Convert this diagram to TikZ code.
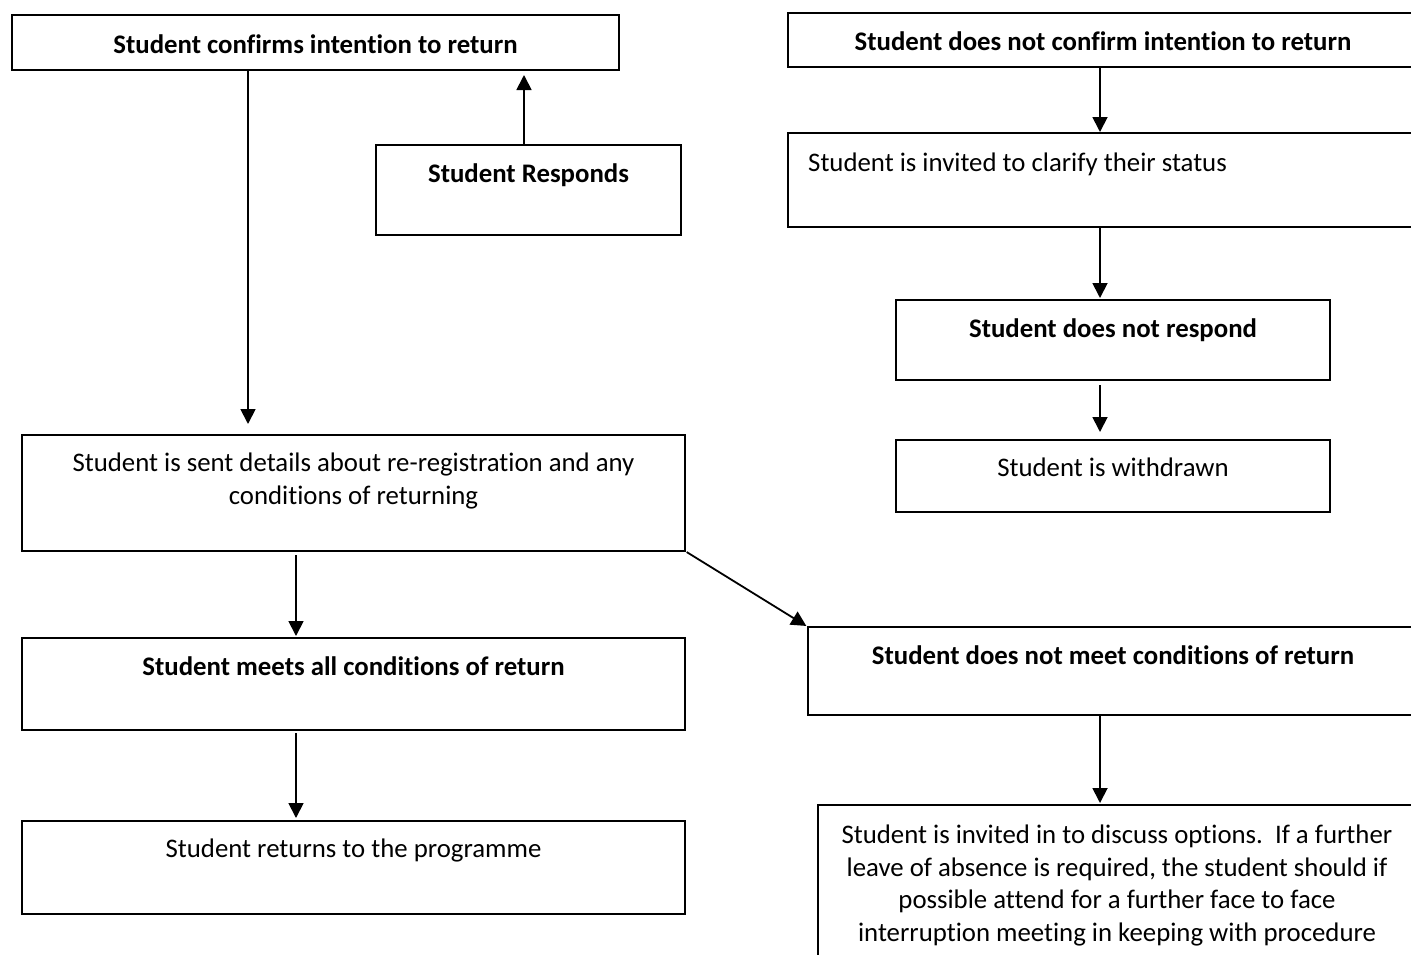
\documentclass[tikz,border=0pt]{standalone}
\usepackage{fontspec}
\setmainfont{Carlito}[Ligatures=NoCommon]
\usetikzlibrary{arrows.meta}
\usetikzlibrary{positioning}
\tikzset{box/.style = {draw, rectangle, line width=1.8pt, anchor=north west,
                       inner sep=0, outer sep=0}}
\tikzset{txt/.style = {inner sep=0, align=center, font=\fontsize{26.8}{32.5}\selectfont}}
\tikzset{btxt/.style = {txt, font=\fontsize{26.8}{32.5}\selectfont\bfseries}}
\tikzset{arr/.style = {line width=1.8pt, -{Triangle[length=15pt, width=15pt]}}}

\begin{document}
\begin{tikzpicture}[x=1pt, y=-1pt]
      \useasboundingbox (0,0) rectangle (1411,954);
      \clip (0,0) rectangle (1411,954);
      \node [box, minimum width=607pt, minimum height=55pt] (confirm) at (12,15) {};
      \node [box, minimum width=305pt, minimum height=90pt] (responds) at (376,145) {};
      \node [box, minimum width=630pt, minimum height=54pt] (notconfirm) at (788,13) {};
      \node [box, minimum width=630pt, minimum height=94pt] (clarify) at (788,133) {};
      \node [box, minimum width=434pt, minimum height=80pt] (norespond) at (896,300) {};
      \node [box, minimum width=434pt, minimum height=72pt] (withdrawn) at (896,440) {};
      \node [box, minimum width=663pt, minimum height=116pt] (sent) at (22,435) {};
      \node [box, minimum width=663pt, minimum height=92pt] (meets) at (22,638) {};
      \node [box, minimum width=663pt, minimum height=93pt] (returns) at (22,821) {};
      \node [box, minimum width=610pt, minimum height=88pt] (notmeet) at (808,627) {};
      \node [box, minimum width=598pt, minimum height=200pt] (invited) at (818,805) {};
      \node [btxt, below=19pt of confirm.north] (tconfirm) {Student confirms intention to return};
      \node [btxt, below=18pt of responds.north] (tresponds) {Student Responds};
      \node [btxt, below=18pt of notconfirm.north] (tnotconfirm) {Student does not confirm intention to return};
      \node [txt, anchor=north west, below right=20pt and 20pt of clarify.north west] (tclarify)
            {Student is invited to clarify their status};
      \node [btxt, below=18pt of norespond.north] (tnorespond) {Student does not respond};
      \node [txt, below=18pt of withdrawn.north] (twithdrawn) {Student is withdrawn};
      \node [txt, below=18pt of sent.north] (tsent)
            {Student is sent details about re-registration and any\\conditions of returning};
      \node [btxt, below=18pt of meets.north] (tmeets) {Student meets all conditions of return};
      \node [txt, below=18pt of returns.north] (treturns) {Student returns to the programme};
      \node [btxt, below=18pt of notmeet.north] (tnotmeet) {Student does not meet conditions of return};
      \node [txt, below=20pt of invited.north] (tinvited)
            {Student is invited in to discuss options.\ \ If a further\\
             leave of absence is required, the student should if\\
             possible attend for a further face to face\\
             interruption meeting in keeping with procedure};
      \draw [arr, shorten >=11pt] ([xshift=236pt]confirm.south west) -- ([xshift=226pt]sent.north west);
      \draw [arr, shorten >=5pt] ([xshift=148pt]responds.north west) -- ([xshift=512pt]confirm.south west);
      \draw [arr, shorten >=1pt] ([xshift=312pt]notconfirm.south west) -- ([xshift=312pt]clarify.north west);
      \draw [arr, shorten <=1pt, shorten >=2pt] ([xshift=312pt]clarify.south west) -- ([xshift=204pt]norespond.north west);
      \draw [arr, shorten <=5pt, shorten >=8pt] ([xshift=204pt]norespond.south west) -- ([xshift=204pt]withdrawn.north west);
      \draw [arr, shorten <=4pt, shorten >=2pt] ([xshift=274pt]sent.south west) -- ([xshift=274pt]meets.north west);
      \draw [arr, shorten <=2pt, shorten >=2pt] (sent.south east) -- (notmeet.north west);
      \draw [arr, shorten <=3pt, shorten >=3pt] ([xshift=274pt]meets.south west) -- ([xshift=274pt]returns.north west);
      \draw [arr, shorten <=1pt, shorten >=2pt] ([xshift=292pt]notmeet.south west) -- ([xshift=282pt]invited.north west);
    \end{tikzpicture}
\end{document}
